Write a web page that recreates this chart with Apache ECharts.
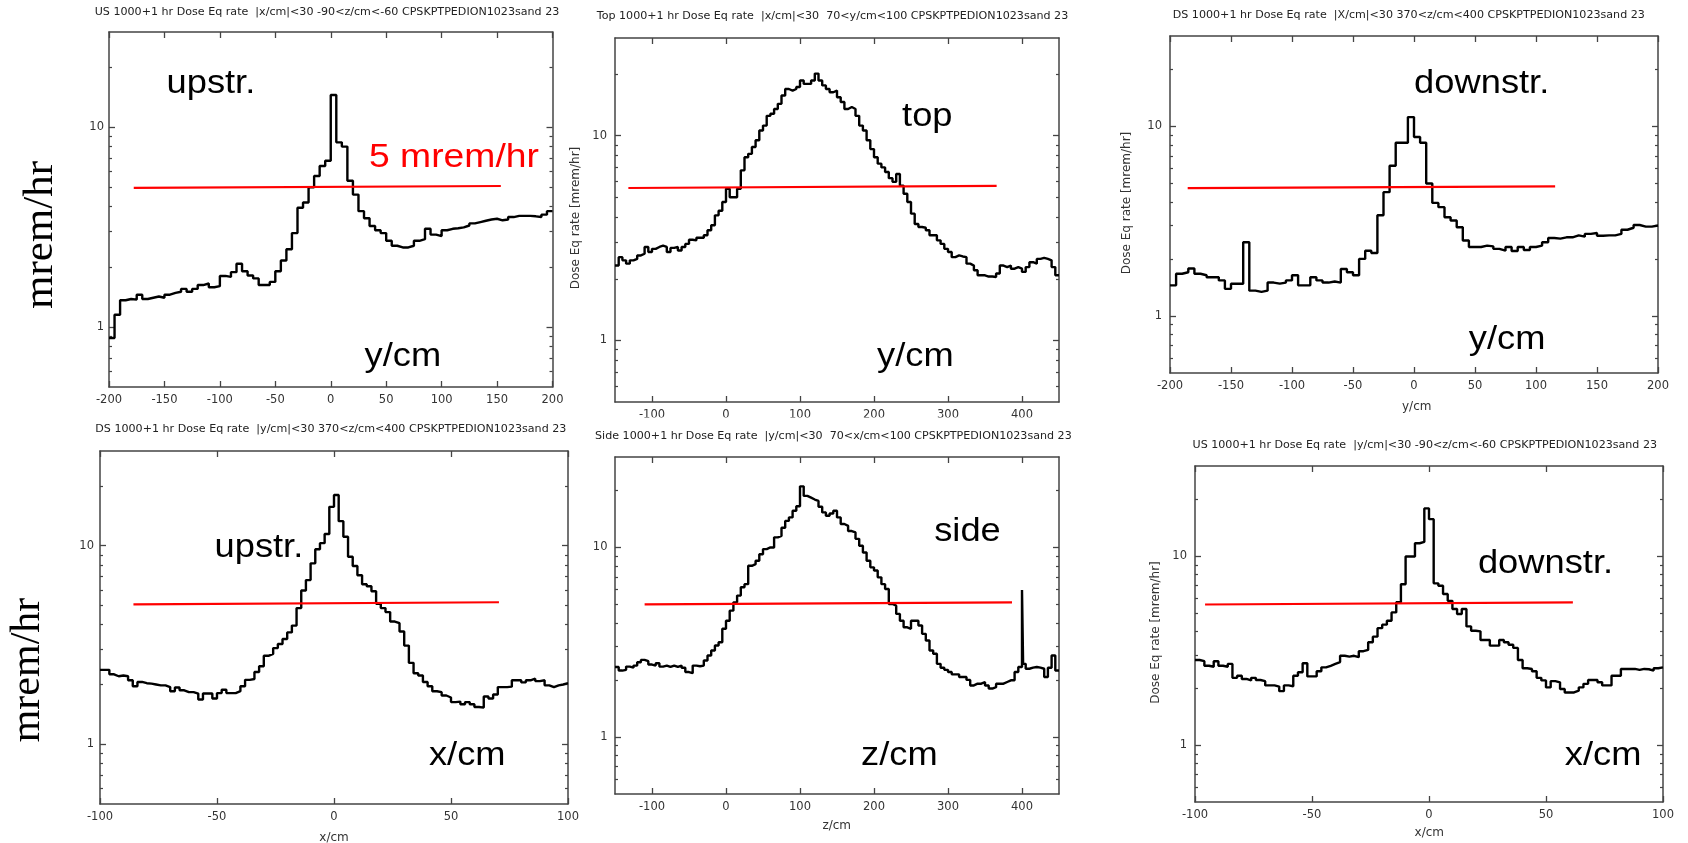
<!DOCTYPE html>
<html><head><meta charset="utf-8">
<script src="https://cdn.jsdelivr.net/npm/echarts@6/dist/echarts.min.js"></script>
<style>html,body{margin:0;padding:0;background:#fff}#c{width:1688px;height:843px}</style>
</head><body><div id="c"></div>
<script>
// ================= DATA =================
// bin layout of each histogram: first bin edge and bin width (cm)
const usY_bins = [-200, 5];
const topY_bins = [-150, 5];
const dsY_bins = [-200, 5];
const dsX_bins = [-100, 2];
const sideZ_bins = [-150, 5];
const usX_bins = [-100, 2];

// dose rate per bin [mrem/hr]
const usY_values = [
 0.88,1.15,1.36,1.38,1.37,1.45,1.38,1.40,1.42,1.40,
 1.45,1.48,1.5,1.55,1.5,1.55,1.62,1.65,1.58,1.6,
 1.8,1.78,1.88,2.07,1.9,1.81,1.75,1.62,1.62,1.68,
 1.9,2.15,2.45,2.95,3.95,4.2,5.0,5.7,6.4,6.8,
 14.5,8.4,8.0,5.4,4.6,3.8,3.5,3.2,3.05,2.95,
 2.7,2.55,2.5,2.5,2.55,2.7,2.75,3.1,2.9,2.85,
 3.05,3.1,3.12,3.15,3.22,3.3,3.35,3.4,3.45,3.48,
 3.42,3.45,3.55,3.6,3.6,3.6,3.58,3.55,3.65,3.8];

const topY_values = [
 2.32,2.55,2.46,2.37,2.46,2.5,2.6,2.65,2.86,2.7,
 2.8,2.86,2.9,2.86,2.7,2.83,2.86,2.75,2.86,2.96,
 3.1,3.08,3.17,3.17,3.26,3.45,3.65,4.08,4.3,4.74,
 5.5,5.0,5.0,5.5,6.77,7.85,8.15,8.8,9.5,10.6,
 11.2,12.5,12.8,13.5,14.3,15.7,16.9,16.6,16.9,17.3,
 18.6,17.9,17.9,18.6,20.1,18.6,17.6,16.9,16.3,16.6,
 15.4,14.6,13.5,13.8,13.5,12.5,11.2,10.6,9.5,8.6,
 7.85,7.3,7.0,6.64,6.2,5.95,6.5,5.7,5.2,4.74,
 4.16,3.7,3.58,3.55,3.45,3.26,3.26,3.08,2.96,2.8,
 2.7,2.55,2.6,2.57,2.55,2.37,2.32,2.2,2.08,2.08,
 2.05,2.05,2.04,2.12,2.32,2.28,2.32,2.24,2.28,2.24,
 2.16,2.28,2.41,2.37,2.5,2.53,2.5,2.46,2.28,2.08];

const dsY_values = [
 1.45,1.67,1.7,1.78,1.67,1.64,1.6,1.6,1.54,1.39,
 1.48,1.48,2.45,1.36,1.34,1.36,1.5,1.48,1.5,1.54,
 1.64,1.45,1.45,1.6,1.54,1.5,1.52,1.5,1.77,1.7,
 1.64,2.0,2.21,2.15,3.4,4.5,6.2,8.2,8.2,11.2,
 8.8,8.2,5.0,3.95,3.75,3.32,3.19,2.94,2.5,2.31,
 2.31,2.35,2.33,2.26,2.21,2.31,2.2,2.31,2.23,2.31,
 2.35,2.45,2.58,2.56,2.6,2.6,2.66,2.62,2.71,2.74,
 2.65,2.66,2.66,2.71,2.85,2.92,3.02,2.96,2.96,3.0];

const dsX_values = [
 2.37,2.37,2.25,2.2,2.22,2.2,2.1,1.96,2.06,2.03,
 2.02,2.0,1.98,1.98,1.94,1.85,1.93,1.87,1.83,1.83,
 1.8,1.68,1.8,1.8,1.7,1.81,1.88,1.81,1.81,1.85,
 1.96,2.11,2.13,2.31,2.47,2.79,2.85,3.05,3.2,3.39,
 3.66,3.96,4.85,5.95,6.71,8.15,9.6,10.3,11.45,15.7,
 18.0,13.3,11.1,8.8,7.9,7.1,6.4,6.25,5.9,5.1,
 4.85,4.63,4.15,4.07,3.7,3.14,2.57,2.28,2.22,2.06,
 1.96,1.85,1.83,1.76,1.72,1.63,1.64,1.59,1.63,1.59,
 1.54,1.53,1.74,1.7,1.78,1.94,1.94,1.95,2.1,2.1,
 2.05,2.1,2.14,2.08,2.1,1.98,1.94,1.98,2.0,2.03];

const sideZ_values = [
 2.34,2.24,2.26,2.35,2.32,2.38,2.48,2.55,2.51,2.41,
 2.38,2.45,2.35,2.38,2.34,2.38,2.34,2.38,2.32,2.2,
 2.17,2.38,2.36,2.38,2.53,2.69,2.86,3.04,3.16,3.72,
 4.1,4.64,5.13,5.57,6.16,6.4,8.0,8.16,8.5,9.2,
 9.8,10.0,10.0,11.3,11.5,12.7,13.8,14.4,15.6,16.5,
 21.0,18.7,18.3,17.9,17.6,16.4,15.3,14.7,15.1,15.6,
 14.4,13.3,13.0,12.2,12.0,11.1,10.2,9.4,8.5,7.85,
 7.55,6.95,6.4,6.03,5.03,4.93,4.46,4.1,3.79,3.72,
 4.1,4.1,3.87,3.5,3.23,2.86,2.75,2.43,2.32,2.26,
 2.2,2.14,2.14,2.07,2.07,2.0,1.87,1.91,1.91,1.95,
 1.87,1.8,1.83,1.91,1.91,1.95,1.99,1.99,2.2,2.34,
 2.43,2.29,2.32,2.34,2.32,2.29,2.07,2.32,2.69,2.24];
// narrow spike in the side histogram: [from cm, to cm, value]
const sideZ_spike = [400, 401.5, 5.96];

const usX_values = [
 2.82,2.78,2.63,2.6,2.78,2.63,2.6,2.69,2.27,2.33,
 2.24,2.2,2.27,2.21,2.18,2.07,2.07,2.04,1.93,2.07,
 2.05,2.33,2.43,2.71,2.31,2.31,2.46,2.58,2.63,2.69,
 2.75,2.97,2.94,2.97,2.92,3.14,3.19,3.5,3.75,4.16,
 4.34,4.55,5.04,5.7,7.1,9.96,9.96,11.7,11.9,17.9,
 15.7,7.18,6.97,6.3,5.8,5.25,4.94,5.25,4.25,4.03,
 4.0,3.6,3.6,3.36,3.36,3.6,3.5,3.4,3.27,2.82,
 2.55,2.53,2.46,2.27,2.2,2.02,2.18,2.15,1.98,1.9,
 1.9,1.94,2.02,2.11,2.21,2.21,2.15,2.07,2.07,2.33,
 2.33,2.53,2.53,2.53,2.5,2.53,2.52,2.48,2.55,2.58];

// 5 mrem/hr reference lines (hand-drawn, slightly sloped)
const limitUS_Y = [[-177.7, 4.97], [153.4, 5.08]];
const limitTop = [[-131.9, 5.55], [365.7, 5.68]];
const limitDS_Y = [[-185.5, 4.72], [115.7, 4.83]];
const limitDS_X = [[-85.7, 5.07], [70.5, 5.19]];
const limitSide = [[-110, 5.01], [386.5, 5.13]];
const limitUS_X = [[-95.7, 5.55], [61.5, 5.69]];

// tick labels
const ticks200 = [-200, -150, -100, -50, 0, 50, 100, 150, 200];
const ticksZ = [-100, 0, 100, 200, 300, 400];
const ticks100 = [-100, -50, 0, 50, 100];
const logMajor = [1, 10];
const logMinor = [0.6, 0.7, 0.8, 0.9, 2, 3, 4, 5, 6, 7, 8, 9, 20];

const titles = [
 'US 1000+1 hr Dose Eq rate  |x/cm|<30 -90<z/cm<-60 CPSKPTPEDION1023sand 23',
 'Top 1000+1 hr Dose Eq rate  |x/cm|<30  70<y/cm<100 CPSKPTPEDION1023sand 23',
 'DS 1000+1 hr Dose Eq rate  |X/cm|<30 370<z/cm<400 CPSKPTPEDION1023sand 23',
 'DS 1000+1 hr Dose Eq rate  |y/cm|<30 370<z/cm<400 CPSKPTPEDION1023sand 23',
 'Side 1000+1 hr Dose Eq rate  |y/cm|<30  70<x/cm<100 CPSKPTPEDION1023sand 23',
 'US 1000+1 hr Dose Eq rate  |y/cm|<30 -90<z/cm<-60 CPSKPTPEDION1023sand 23'
];
const bigLabels = ['upstr.', 'top', 'downstr.', 'upstr.', 'side', 'downstr.'];
const bigAxisLabels = ['y/cm', 'y/cm', 'y/cm', 'x/cm', 'z/cm', 'x/cm'];
const limitText = '5 mrem/hr';
const yUnit = 'mrem/hr';
const yName = 'Dose Eq rate [mrem/hr]';

// ================= LAYOUT =================
const panels = [
 {vals: usY_values, bins: usY_bins, limit: limitUS_Y, xr: [-200, 200], ticks: ticks200,
  grid: {left: 109, top: 32, width: 443.5, height: 355}, ylm: 5,
  title: [327, 12], big: [166.5, 94.3], bigAx: [364.6, 366.7]},
 {vals: topY_values, bins: topY_bins, limit: limitTop, xr: [-150, 450], ticks: ticksZ,
  grid: {left: 615, top: 38, width: 444, height: 364}, ylm: 8,
  title: [832.5, 16.7], big: [902.1, 126.7], bigAx: [877.1, 366.7], yname: [575.4, 218]},
 {vals: dsY_values, bins: dsY_bins, limit: limitDS_Y, xr: [-200, 200], ticks: ticks200,
  grid: {left: 1170, top: 36, width: 488, height: 337}, ylm: 8,
  title: [1408.8, 15], big: [1414.1, 94.3], bigAx: [1468.8, 350], yname: [1126.5, 203], xname: [1416.7, 406.7]},
 {vals: dsX_values, bins: dsX_bins, limit: limitDS_X, xr: [-100, 100], ticks: ticks100,
  grid: {left: 100, top: 451, width: 468, height: 353}, ylm: 6,
  title: [330.8, 429.3], big: [214.5, 558.3], bigAx: [428.9, 766], xname: [334, 837.7]},
 {vals: sideZ_values, bins: sideZ_bins, limit: limitSide, xr: [-150, 450], ticks: ticksZ, spike: sideZ_spike,
  grid: {left: 615, top: 457, width: 444, height: 337}, ylm: 7.5,
  title: [833.4, 436], big: [934.2, 541.7], bigAx: [861, 766], xname: [836.7, 825.7]},
 {vals: usX_values, bins: usX_bins, limit: limitUS_X, xr: [-100, 100], ticks: ticks100,
  grid: {left: 1195, top: 466, width: 468, height: 336}, ylm: 8,
  title: [1424.8, 445], big: [1477.9, 574], bigAx: [1564.8, 766], yname: [1156.2, 632.5], xname: [1429.3, 833.3]}
];
const xNames = [null, null, 'y/cm', 'x/cm', 'z/cm', 'x/cm'];

const AX = '#444', TXT = '#333';
const grids = [], xAxes = [], yAxes = [], series = [], graphics = [];

function histPoints(vals, bins, spike) {
  const [start, w] = bins;
  const pts = vals.map((v, i) => [start + i * w, v]);
  pts.push([start + vals.length * w, vals[vals.length - 1]]);
  if (spike) {
    const idx = pts.findIndex(p => p[0] === spike[0]);
    if (idx >= 0) {
      const orig = pts[idx][1];
      pts.splice(idx, 1, [spike[0], spike[2]], [spike[1], orig]);
    }
  }
  return pts;
}

panels.forEach((p, i) => {
  grids.push(Object.assign({}, p.grid));
  const xi = xAxes.length;
  const common = {type: 'value', gridIndex: i, min: p.xr[0], max: p.xr[1], splitLine: {show: false}};
  xAxes.push(Object.assign({}, common, {
    position: 'bottom',
    axisLine: {show: true, onZero: false, lineStyle: {color: AX, width: 1.5}},
    axisTick: {show: true, inside: true, length: 6, customValues: p.ticks, lineStyle: {color: AX, width: 1.3}},
    axisLabel: {show: true, customValues: p.ticks, margin: 7, color: TXT, fontFamily: 'DejaVu Sans', fontSize: 11.5}
  }));
  xAxes.push(Object.assign({}, common, {
    position: 'top',
    axisLine: {show: true, onZero: false, lineStyle: {color: AX, width: 1.5}},
    axisTick: {show: true, inside: true, length: 6, customValues: p.ticks, lineStyle: {color: AX, width: 1.3}},
    axisLabel: {show: false}
  }));
  const yi = yAxes.length;
  const yc = {type: 'log', logBase: 10, gridIndex: i, min: 0.5, max: 30, splitLine: {show: false}};
  ['left', 'right'].forEach(pos => {
    yAxes.push(Object.assign({}, yc, {
      position: pos,
      axisLine: {show: true, onZero: false, lineStyle: {color: AX, width: 1.5}},
      axisTick: {show: true, inside: true, length: 6, customValues: logMajor, lineStyle: {color: AX, width: 1.3}},
      axisLabel: pos === 'left' ? {show: true, customValues: logMajor, margin: p.ylm, color: TXT, fontFamily: 'DejaVu Sans', fontSize: 11.5} : {show: false}
    }));
    yAxes.push(Object.assign({}, yc, {
      position: pos,
      axisLine: {show: false, onZero: false},
      axisTick: {show: true, inside: true, length: 3, customValues: logMinor, lineStyle: {color: AX, width: 1.2}},
      axisLabel: {show: false}
    }));
  });
  series.push({
    type: 'line', xAxisIndex: xi, yAxisIndex: yi, step: 'end', showSymbol: false, symbol: 'none',
    data: histPoints(p.vals, p.bins, p.spike),
    lineStyle: {color: '#000', width: 2.4}, z: 3, silent: true
  });
  series.push({
    type: 'line', xAxisIndex: xi, yAxisIndex: yi, showSymbol: false, symbol: 'none',
    data: p.limit, lineStyle: {color: '#ff0000', width: 2.2}, z: 4, silent: true
  });

  // title
  graphics.push({type: 'text', x: p.title[0], y: p.title[1], scaleX: 1.11,
    style: {text: titles[i], fill: '#222', fontFamily: 'DejaVu Sans', fontSize: 10, textAlign: 'center', verticalAlign: 'middle'}});
  // big annotations
  graphics.push({type: 'text', x: p.big[0], y: p.big[1] - 10, scaleX: 1.1,
    style: {text: bigLabels[i], fill: '#000', fontFamily: 'Liberation Sans', fontSize: 33, textAlign: 'left', verticalAlign: 'middle'}, z: 50});
  graphics.push({type: 'text', x: p.bigAx[0], y: p.bigAx[1] - 10, scaleX: 1.1,
    style: {text: bigAxisLabels[i], fill: '#000', fontFamily: 'Liberation Sans', fontSize: 33, textAlign: 'left', verticalAlign: 'middle'}, z: 50});
  if (p.yname) {
    graphics.push({type: 'text', x: p.yname[0], y: p.yname[1], rotation: Math.PI / 2,
      style: {text: yName, fill: TXT, fontFamily: 'DejaVu Sans', fontSize: 12, textAlign: 'center', verticalAlign: 'middle'}});
  }
  if (p.xname) {
    graphics.push({type: 'text', x: p.xname[0], y: p.xname[1],
      style: {text: xNames[i], fill: TXT, fontFamily: 'DejaVu Sans', fontSize: 12, textAlign: 'center', verticalAlign: 'middle'}});
  }
});

// red annotation of the limit
graphics.push({type: 'text', x: 369, y: 168.3 - 10, scaleX: 1.13,
  style: {text: limitText, fill: '#ff0000', fontFamily: 'Liberation Sans', fontSize: 33, textAlign: 'left', verticalAlign: 'middle'}, z: 50});
// large serif unit labels on the left
graphics.push({type: 'text', x: 41, y: 235, rotation: Math.PI / 2,
  style: {text: yUnit, fill: '#000', fontFamily: 'Liberation Serif', fontSize: 43, textAlign: 'center', verticalAlign: 'middle'}});
graphics.push({type: 'text', x: 28, y: 670, rotation: Math.PI / 2,
  style: {text: yUnit, fill: '#000', fontFamily: 'Liberation Serif', fontSize: 42, textAlign: 'center', verticalAlign: 'middle'}});
// the composite image cuts the lower half of the top-middle tick labels
graphics.push({type: 'rect', shape: {x: 585, y: 417.5, width: 500, height: 11}, style: {fill: '#fff'}, z: 100});

const chart = echarts.init(document.getElementById('c'), null, {renderer: 'canvas'});
chart.setOption({
  backgroundColor: '#fff',
  animation: false,
  grid: grids,
  xAxis: xAxes,
  yAxis: yAxes,
  series: series,
  graphic: {elements: graphics}
});
</script>
</body></html>
